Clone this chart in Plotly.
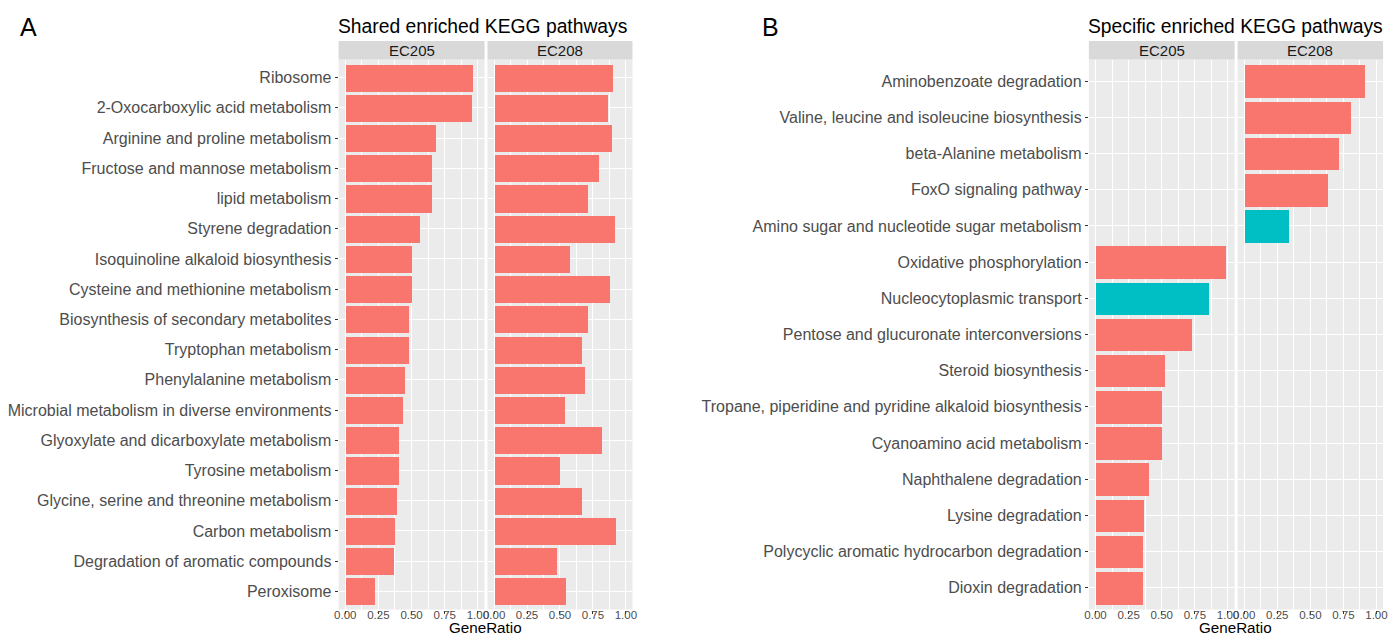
import plotly.graph_objects as go

W, H = 1396, 637

# ---- Shared enriched KEGG pathways (panel A) ----
shared_pathways = [
    "Ribosome",
    "2-Oxocarboxylic acid metabolism",
    "Arginine and proline metabolism",
    "Fructose and mannose metabolism",
    "lipid metabolism",
    "Styrene degradation",
    "Isoquinoline alkaloid biosynthesis",
    "Cysteine and methionine metabolism",
    "Biosynthesis of secondary metabolites",
    "Tryptophan metabolism",
    "Phenylalanine metabolism",
    "Microbial metabolism in diverse environments",
    "Glyoxylate and dicarboxylate metabolism",
    "Tyrosine metabolism",
    "Glycine, serine and threonine metabolism",
    "Carbon metabolism",
    "Degradation of aromatic compounds",
    "Peroxisome",
]
shared_ec205 = [0.963, 0.953, 0.678, 0.648, 0.648, 0.564, 0.499, 0.499, 0.479,
                0.474, 0.451, 0.434, 0.401, 0.401, 0.386, 0.371, 0.361, 0.219]
shared_ec208 = [0.901, 0.859, 0.891, 0.789, 0.711, 0.911, 0.574, 0.874, 0.707,
                0.662, 0.687, 0.537, 0.814, 0.499, 0.666, 0.918, 0.477, 0.544]

# ---- Specific enriched KEGG pathways (panel B) ----
spec_ec208_pathways = [
    "Aminobenzoate degradation",
    "Valine, leucine and isoleucine biosynthesis",
    "beta-Alanine metabolism",
    "FoxO signaling pathway",
    "Amino sugar and nucleotide sugar metabolism",
]
spec_ec208_values = [0.914, 0.806, 0.716, 0.628, 0.335]
spec_ec208_group = [1, 1, 1, 1, 2]

spec_ec205_pathways = [
    "Oxidative phosphorylation",
    "Nucleocytoplasmic transport",
    "Pentose and glucuronate interconversions",
    "Steroid biosynthesis",
    "Tropane, piperidine and pyridine alkaloid biosynthesis",
    "Cyanoamino acid metabolism",
    "Naphthalene degradation",
    "Lysine degradation",
    "Polycyclic aromatic hydrocarbon degradation",
    "Dioxin degradation",
]
spec_ec205_values = [0.983, 0.854, 0.724, 0.526, 0.503, 0.503, 0.403, 0.368, 0.358, 0.358]
spec_ec205_group = [1, 2, 1, 1, 1, 1, 1, 1, 1, 1]

specific_pathways = spec_ec208_pathways + spec_ec205_pathways

x_ticks = [0, 0.25, 0.5, 0.75, 1.0]
x_ticklabels = ["0.00", "0.25", "0.50", "0.75", "1.00"]
facet_labels = ["EC205", "EC208"]

palette = {1: "#F8766D", 2: "#00BFC4"}
FONT = "Liberation Sans, Arial, sans-serif"

# pixel layout helpers
def px_x(v):
    return v / W

def px_y(v):
    return 1 - v / H

plot_top, plot_bottom = 59.5, 609.5
strip_top = 41
y_dom = [px_y(plot_bottom), px_y(plot_top)]

facets = {
    "x": (336, 483),
    "x2": (486, 632),
    "x3": (1091.7, 1238.5),
    "x4": (1241.5, 1388),
}

fig = go.Figure()

bar_kw = dict(orientation="h", width=0.9, hoverinfo="x+y", showlegend=False)

fig.add_trace(go.Bar(x=shared_ec205, y=shared_pathways, xaxis="x", yaxis="y",
                     marker=dict(color=palette[1], line=dict(width=0)), **bar_kw))
fig.add_trace(go.Bar(x=shared_ec208, y=shared_pathways, xaxis="x2", yaxis="y",
                     marker=dict(color=palette[1], line=dict(width=0)), **bar_kw))
fig.add_trace(go.Bar(x=spec_ec205_values, y=spec_ec205_pathways, xaxis="x3", yaxis="y2",
                     marker=dict(color=[palette[g] for g in spec_ec205_group], line=dict(width=0)),
                     **bar_kw))
fig.add_trace(go.Bar(x=spec_ec208_values, y=spec_ec208_pathways, xaxis="x4", yaxis="y2",
                     marker=dict(color=[palette[g] for g in spec_ec208_group], line=dict(width=0)),
                     **bar_kw))

xaxis_common = dict(
    range=[-0.05, 1.05], tickmode="array", tickvals=x_ticks, ticktext=x_ticklabels,
    ticks="outside", ticklen=3, tickwidth=1, tickcolor="#333333",
    ticklabelstandoff=-8,
    tickfont=dict(family=FONT, size=11.5, color="#4D4D4D"),
    showgrid=True, gridcolor="white", gridwidth=1.1,
    minor=dict(tickmode="array", tickvals=[0.125, 0.375, 0.625, 0.875],
               showgrid=True, gridcolor="white", gridwidth=0.5, ticks=""),
    zeroline=False, showline=False, fixedrange=True,
)
yaxis_common = dict(
    domain=y_dom, ticks="outside", ticklen=3, tickwidth=1, tickcolor="#333333",
    tickfont=dict(family=FONT, size=16, color="#4D4D4D"),
    showgrid=True, gridcolor="white", gridwidth=1.1,
    zeroline=False, showline=False, categoryorder="array", fixedrange=True,
)

layout = dict(
    width=W, height=H, autosize=False,
    margin=dict(l=0, r=0, t=0, b=0),
    paper_bgcolor="white", plot_bgcolor="#EBEBEB",
    bargap=0, font=dict(family=FONT),
    yaxis=dict(anchor="x", categoryarray=list(reversed(shared_pathways)),
               range=[-0.6, len(shared_pathways) - 0.4], **yaxis_common),
    yaxis2=dict(anchor="x3", categoryarray=list(reversed(specific_pathways)),
                range=[-0.6, len(specific_pathways) - 0.4], **yaxis_common),
)
for name, (x0, x1) in facets.items():
    key = "xaxis" if name == "x" else "xaxis" + name[1:]
    anchor = "y" if name in ("x", "x2") else "y2"
    layout[key] = dict(domain=[px_x(x0), px_x(x1)], anchor=anchor, **xaxis_common)

fig.update_layout(**layout)

# facet strips
shapes, annotations = [], []
for i, (name, (x0, x1)) in enumerate(facets.items()):
    shapes.append(dict(type="rect", xref="paper", yref="paper",
                       x0=px_x(x0), x1=px_x(x1), y0=px_y(plot_top), y1=px_y(strip_top),
                       fillcolor="#D9D9D9", line=dict(width=0), layer="below"))
    annotations.append(dict(text=facet_labels[i % 2], xref="paper", yref="paper",
                            x=px_x((x0 + x1) / 2), y=px_y((strip_top + plot_top) / 2),
                            xanchor="center", yanchor="middle", showarrow=False,
                            font=dict(family=FONT, size=15, color="#1A1A1A")))

# panel titles
for text, x0 in [("Shared enriched KEGG pathways", 336),
                 ("Specific enriched KEGG pathways", 1091.7)]:
    annotations.append(dict(text=text, xref="paper", yref="paper",
                            x=px_x(x0 - 3), y=px_y(27), xanchor="left", yanchor="middle",
                            showarrow=False, font=dict(family=FONT, size=19.3, color="black")))

# panel letters
for text, xc in [("A", 24), ("B", 771)]:
    annotations.append(dict(text=text, xref="paper", yref="paper",
                            x=px_x(xc), y=px_y(27), xanchor="center", yanchor="middle",
                            showarrow=False, font=dict(family=FONT, size=25, color="black")))

# x-axis titles, sitting on the bottom edge
for xc in [(336 + 632) / 2, (1091.7 + 1388) / 2]:
    annotations.append(dict(text="GeneRatio", xref="paper", yref="paper",
                            x=px_x(xc), y=0, xanchor="center", yanchor="bottom",
                            borderpad=0, showarrow=False,
                            font=dict(family=FONT, size=15.2, color="black")))

fig.update_layout(shapes=shapes, annotations=annotations)

fig.write_html("out.html")
